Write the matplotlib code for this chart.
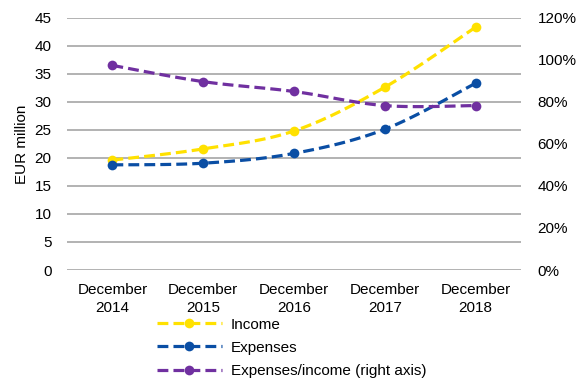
import numpy as np
import matplotlib
matplotlib.use("Agg")
import matplotlib.pyplot as plt
from matplotlib.lines import Line2D
from matplotlib.ticker import FuncFormatter

# data (EUR million, ratio in %)
categories = ["December\n2014", "December\n2015", "December\n2016", "December\n2017", "December\n2018"]
income = [19.6, 21.6, 24.8, 32.6, 43.3]
expenses = [18.75, 19.05, 20.8, 25.1, 33.3]
ratio = [97.3, 89.6, 84.9, 78.2, 78.2]

YELLOW = "#FFE100"
BLUE = "#0A4EA4"
PURPLE = "#7030A0"
GRID = "#A6A6A6"

plt.rcParams["font.family"] = ["Liberation Sans", "DejaVu Sans"]
plt.rcParams["font.size"] = 11


def smooth(x, y, n=30):
    # Excel-style smoothed line: cubic Bezier through points
    x = np.asarray(x, float)
    y = np.asarray(y, float)
    px = np.concatenate([[x[0]], x, [x[-1]]])
    py = np.concatenate([[y[0]], y, [y[-1]]])
    xs, ys = [], []
    t = np.linspace(0, 1, n)
    for i in range(1, len(x)):
        p0 = np.array([px[i], py[i]])
        p3 = np.array([px[i + 1], py[i + 1]])
        c1 = p0 + (np.array([px[i + 1], py[i + 1]]) - np.array([px[i - 1], py[i - 1]])) / 6
        c2 = p3 - (np.array([px[i + 2], py[i + 2]]) - np.array([px[i], py[i]])) / 6
        b = ((1 - t) ** 3)[:, None] * p0 + (3 * (1 - t) ** 2 * t)[:, None] * c1 \
            + (3 * (1 - t) * t ** 2)[:, None] * c2 + (t ** 3)[:, None] * p3
        xs.append(b[:, 0])
        ys.append(b[:, 1])
    return np.concatenate(xs), np.concatenate(ys)


fig = plt.figure(figsize=(5.82, 3.81), dpi=100)
ax = fig.add_axes([67 / 582, 111 / 381, 454 / 582, 252.3 / 381])
ax2 = ax.twinx()

x = np.arange(len(categories))
lw = 2.3
dashes = (3.4, 1.6)
ms = 7


def draw(a, y, color):
    sx, sy = smooth(x, y)
    line, = a.plot(sx, sy, color=color, lw=lw, solid_capstyle="butt", dash_capstyle="butt")
    line.set_dashes(dashes)
    a.plot(x, y, "o", color=color, ms=ms, markeredgewidth=0)


draw(ax, income, YELLOW)
draw(ax, expenses, BLUE)
draw(ax2, ratio, PURPLE)

ax.set_xlim(-0.5, len(categories) - 0.5)
ax.set_ylim(0, 45)
ax.set_yticks(np.arange(0, 46, 5))
ax2.set_ylim(0, 120)
ax2.set_yticks(np.arange(0, 121, 20))
ax2.yaxis.set_major_formatter(FuncFormatter(lambda v, p: f"{v:.0f}%"))

ax.set_xticks(x)
ax.set_xticklabels(categories, linespacing=1.4)
ax.yaxis.grid(True, color=GRID, lw=1.2)
ax.set_axisbelow(True)
for a in (ax, ax2):
    for s in a.spines.values():
        s.set_visible(False)
    a.tick_params(length=0)
ax.tick_params(axis="y", pad=11)
ax.tick_params(axis="x", pad=9)
ax2.tick_params(axis="y", pad=12)
ax.set_ylabel("EUR million")
ax.yaxis.set_label_coords(-0.083, 0.5)

handles = [
    Line2D([0], [0], color=YELLOW, lw=lw, dashes=dashes, marker="o", ms=ms, markeredgewidth=0),
    Line2D([0], [0], color=BLUE, lw=lw, dashes=dashes, marker="o", ms=ms, markeredgewidth=0),
    Line2D([0], [0], color=PURPLE, lw=lw, dashes=dashes, marker="o", ms=ms, markeredgewidth=0),
]
labels = ["Income", "Expenses", "Expenses/income (right axis)"]
fig.legend(handles, labels, loc="upper left", bbox_to_anchor=(155 / 582, 1 - 316 / 381),
           frameon=False, handlelength=4.3, handletextpad=0.55, labelspacing=0.6,
           numpoints=1, borderaxespad=0, borderpad=0.1)

fig.savefig("out.png", dpi=100)
